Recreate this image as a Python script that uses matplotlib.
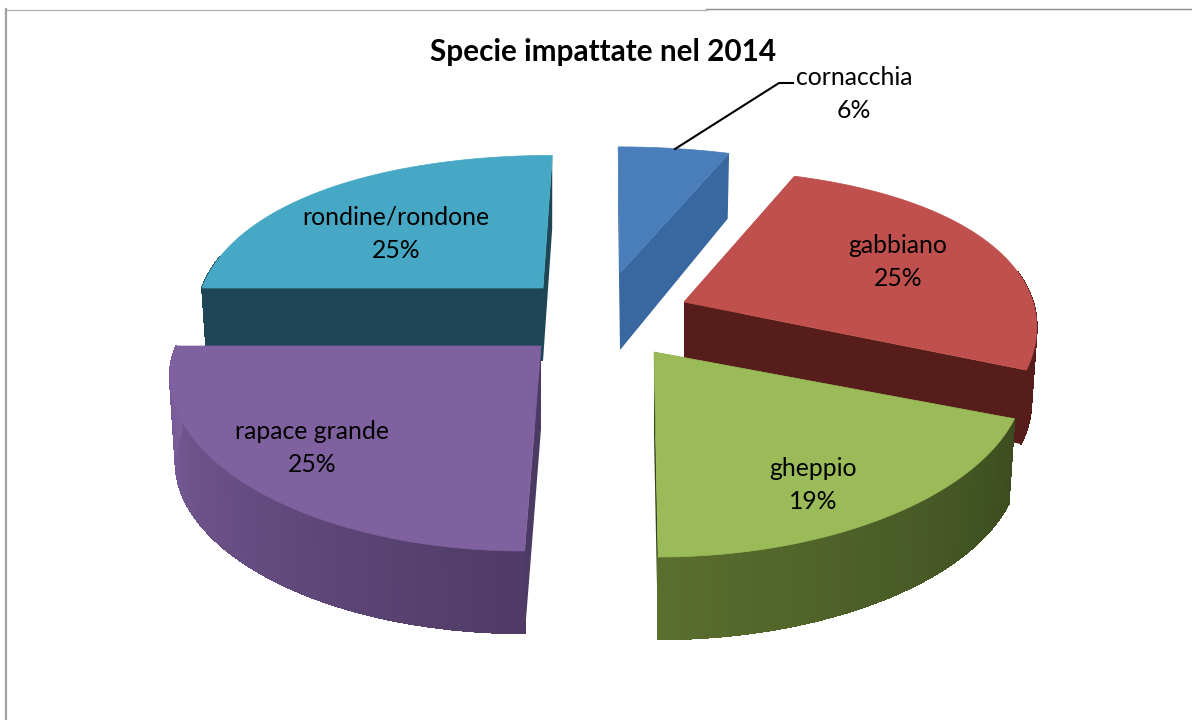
import numpy as np
from matplotlib import pyplot as plt
from matplotlib.collections import PolyCollection
from matplotlib.colors import to_rgb

plt.rcParams['font.family'] = ['Lato', 'DejaVu Sans']

species = ['cornacchia', 'gabbiano', 'gheppio', 'rapace grande', 'rondine/rondone']
percent = [6, 25, 19, 25, 25]

# colours: top, cut wall, outer wall start/end
top_cols = ['#4a7ebb', '#c0504d', '#9bbb59', '#8061a0', '#46a8c4']
cut_cols = ['#38689f', '#571d1a', '#33421c', '#4b3a63', '#1f4656']
wall_a = ['#38689f', '#571d1a', '#3c4c20', '#4f3b66', '#1f4656']
wall_b = ['#38689f', '#571d1a', '#5a6e2e', '#7b5e9b', '#1f4656']

# where each exploded slice sits, pixels
apex_x = [620, 684, 654, 541, 543]
apex_y = [273, 302, 352, 346, 288]
depth = [77, 80, 83, 83, 73]
outer_depth = [64, 75, 86, 86, 72]
shear = [0.015, 0.0, 0.02, -0.08, -0.07]
rx = [350, 349, 366, 365, 341]
ry = [0.97, 1.02, 1.0, 1.0, 1.02]

draw_order = [0, 4, 1, 3, 2]


def project(t, r, i, down=0.0):
    u, v = r * np.sin(t), r * np.cos(t)
    dy = -ry[i] * v * (167.5 - 37.5 * v)
    dx = rx[i] * u * (1 - 0.15 * v) + shear[i] * dy
    return apex_x[i] + dx, apex_y[i] + dy + down


fig = plt.figure(figsize=(11.92, 7.2), dpi=100)
ax = fig.add_axes([0, 0, 1, 1])
ax.set_xlim(0, 1192)
ax.set_ylim(720, 0)
ax.axis('off')

# frame of the original sheet
ax.plot([5, 706], [9.5, 9.5], color='#b4b4b4', lw=1)
ax.plot([706, 1192], [8.5, 8.5], color='#8c8c8c', lw=1)
ax.plot([6, 6], [9, 720], color='#a0a0a0', lw=1.6)

ends = np.cumsum(percent) * 2 * np.pi / 100
starts = np.r_[0, ends[:-1]]

for z, i in enumerate(draw_order):
    t = np.linspace(starts[i], ends[i], 90)
    tx, ty = project(t, 1, i)
    bx, by = project(t, 0.985, i, outer_depth[i])

    # cut walls
    for n in (0, -1):
        quad = [(apex_x[i], apex_y[i]), (tx[n], ty[n]), (bx[n], by[n]),
                (apex_x[i], apex_y[i] + depth[i])]
        ax.fill(*zip(*quad), color=cut_cols[i], lw=0, zorder=z * 3 + 1)

    # outer wall, strip by strip for the shading; back of the pie stays hidden
    a, b = np.array(to_rgb(wall_a[i])), np.array(to_rgb(wall_b[i]))
    front = np.cos(t) < 0.2
    if front.sum() > 1:
        ax.fill(np.r_[tx[front], bx[front][::-1]], np.r_[ty[front], by[front][::-1]],
                color=wall_a[i], lw=0, zorder=z * 3 + 1)
    quads = []
    cols = []
    for j in range(len(t) - 1):
        if front[j] and front[j + 1]:
            quads.append([(tx[j], ty[j]), (tx[j + 1], ty[j + 1]), (bx[j + 1], by[j + 1]), (bx[j], by[j])])
            cols.append(a + (b - a) * j / (len(t) - 2))
    if quads:
        ax.add_collection(PolyCollection(quads, facecolors=cols, edgecolors=cols, lw=0.6,
                                         antialiaseds=False, zorder=z * 3 + 2))

    ax.fill(np.r_[apex_x[i], tx], np.r_[apex_y[i], ty], color=top_cols[i], lw=0.5, zorder=z * 3 + 3)

ax.text(603, 52, 'Specie impattate nel 2014', ha='center', va='center', fontsize=21.4,
        fontweight='bold', color='black', zorder=50)

label_x = [854, 898, 813, 312, 396]
label_y = [94, 262, 485, 448, 234]
for name, pct, lx, ly in zip(species, percent, label_x, label_y):
    ax.text(lx, ly, f'{name}\n{pct}%', ha='center', va='center', fontsize=17.8,
            linespacing=1.55, color='black', zorder=50)

# leader line for cornacchia
ax.plot([675, 779, 793], [149, 83, 83], color='black', lw=1.5, zorder=50)

fig.savefig('out.png', dpi=100)
